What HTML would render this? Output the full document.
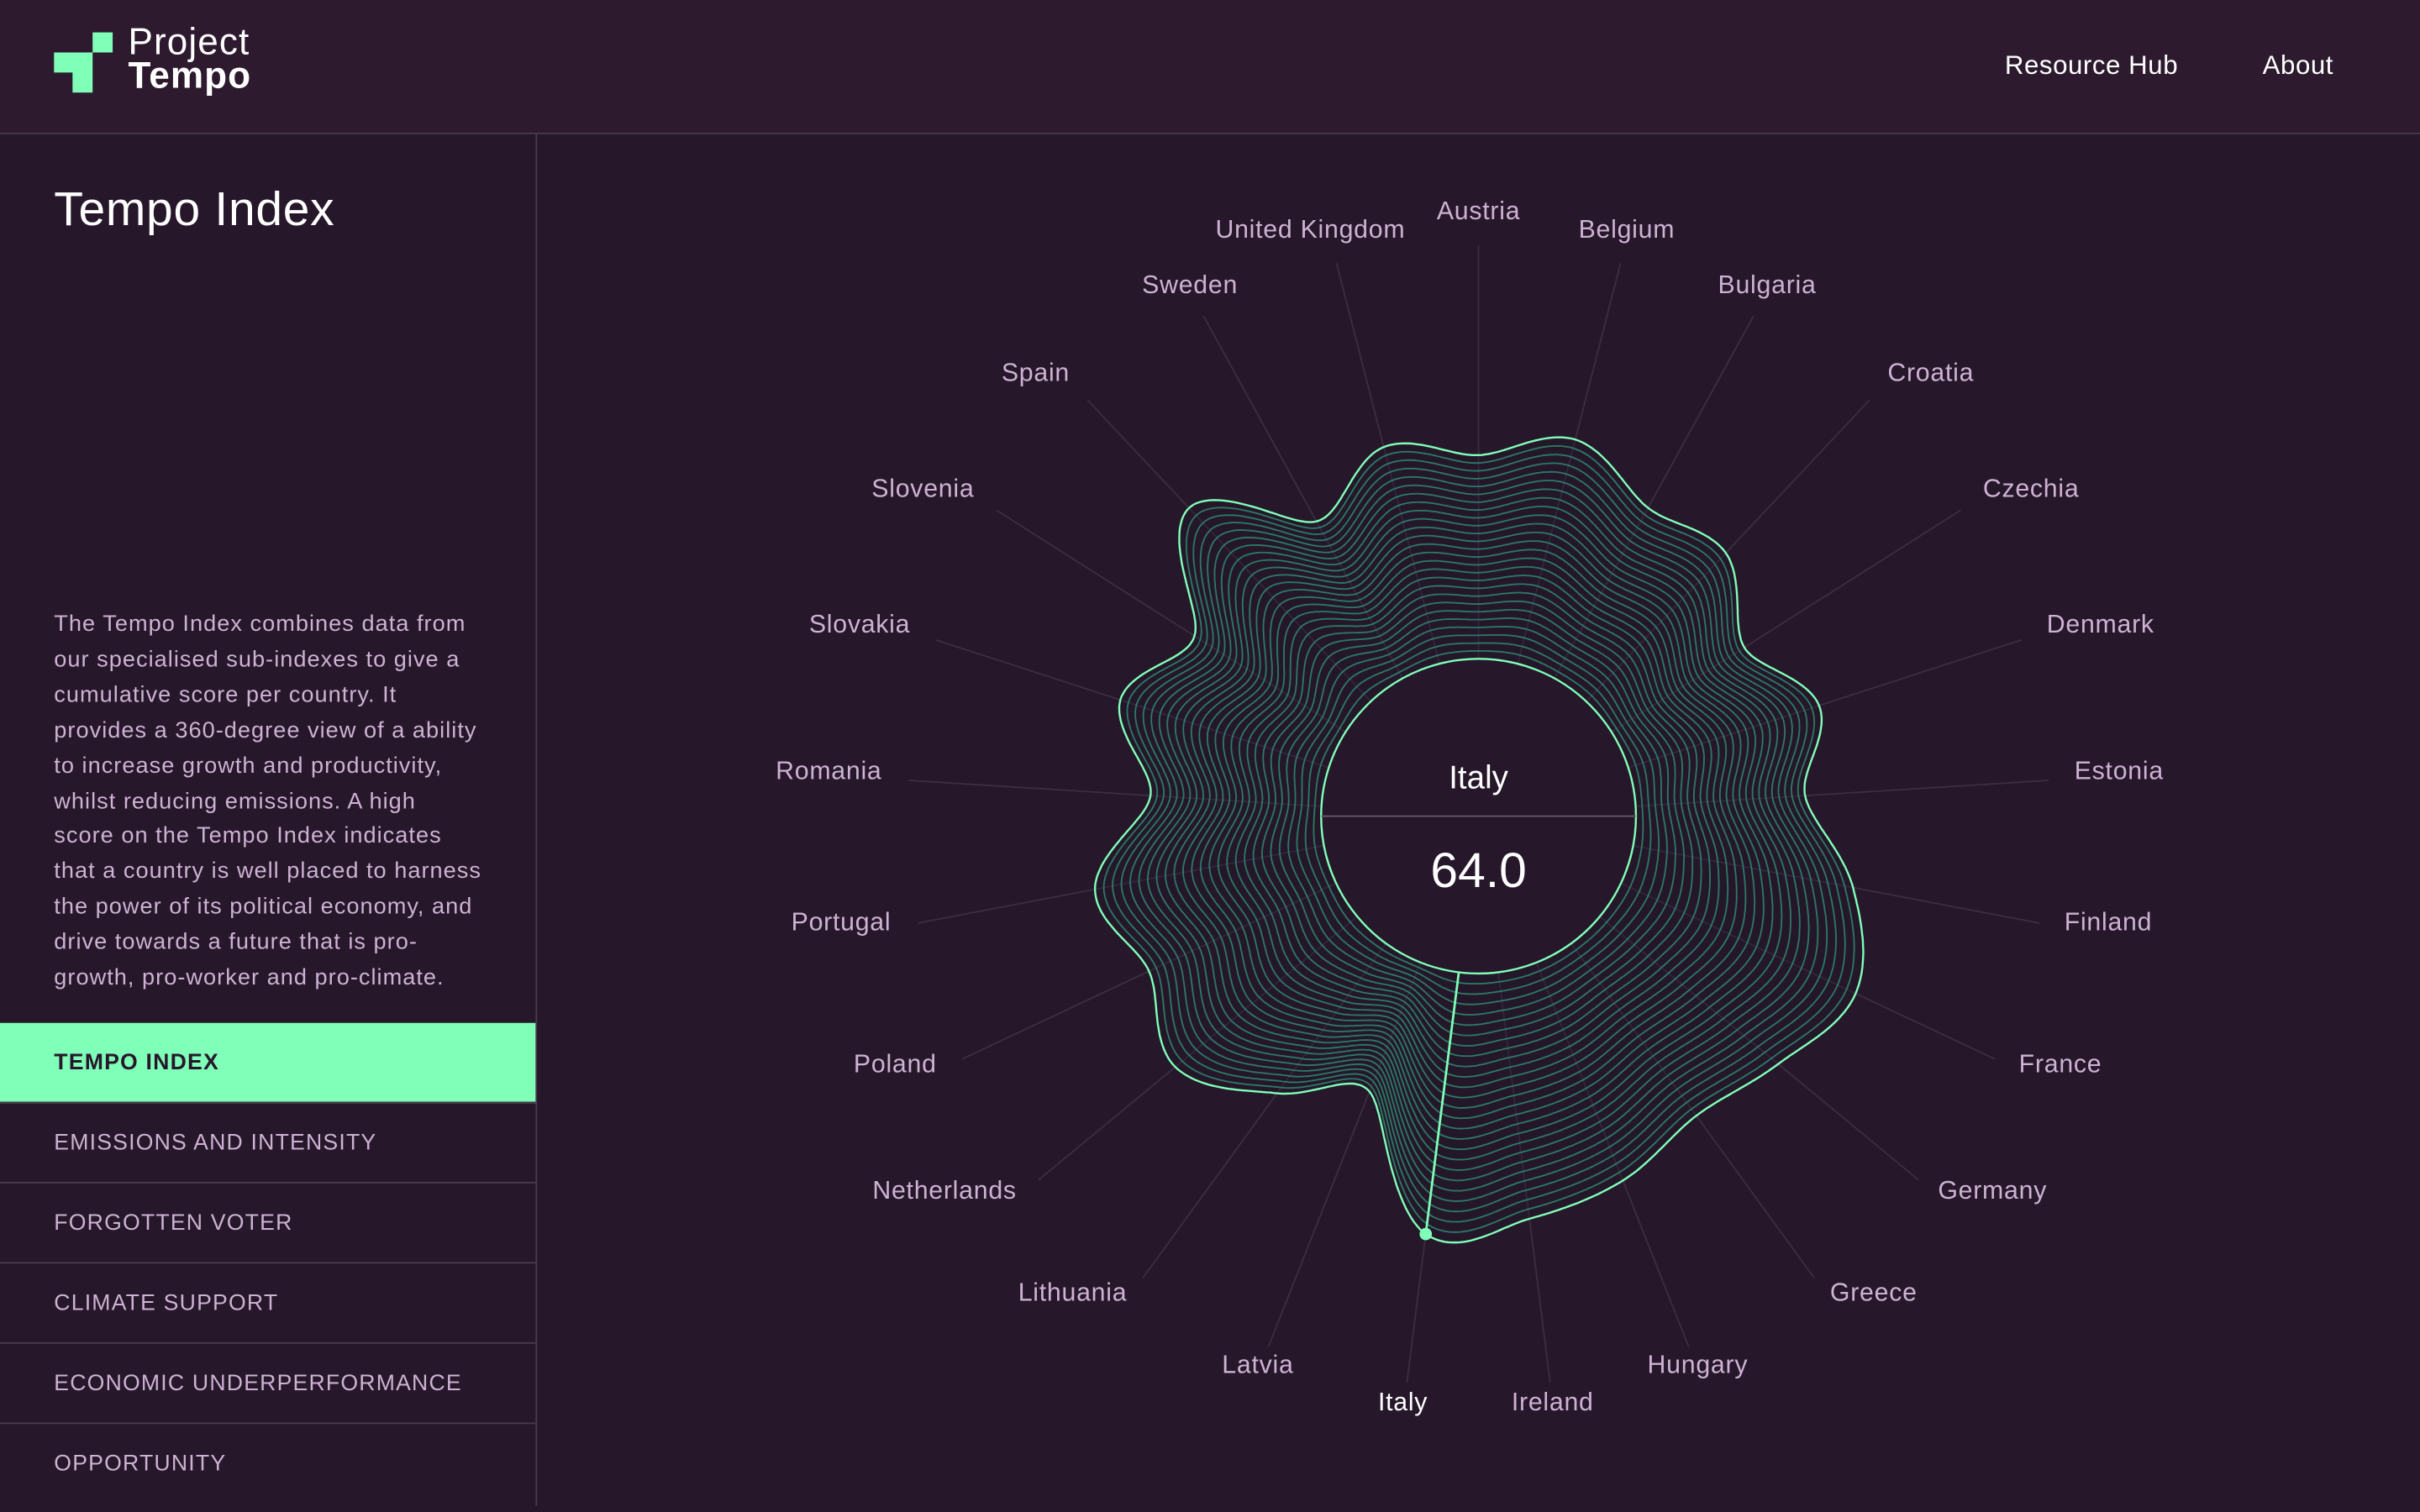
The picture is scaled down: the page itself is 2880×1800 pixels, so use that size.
<!DOCTYPE html>
<html><head><meta charset="utf-8">
<style>
html,body{margin:0;padding:0;background:#26172a;width:2880px;height:1800px;overflow:hidden}
#w{position:absolute;left:0;top:0;width:1568px;height:980px;transform:scale(1.836735);transform-origin:0 0;font-family:"Liberation Sans",sans-serif;background:#26172a}
#hd{position:absolute;left:0;top:0;width:1568px;height:86px;background:#2d1a2e;border-bottom:1px solid #4a3a4e}
.nav{position:absolute;top:33px;color:#fff;font-size:17px;letter-spacing:.3px}
#sb{position:absolute;left:0;top:87px;width:347px;height:889px;border-right:1px solid #4a3a4e}
h1{position:absolute;left:35px;top:118px;margin:0;font-weight:normal;color:#fff;font-size:31px;letter-spacing:.4px}
#p{position:absolute;left:35px;top:394px;width:310px;color:#cdb2d3;font-size:14.8px;line-height:22.9px;letter-spacing:.55px;white-space:nowrap}
.it{position:absolute;left:0;width:347px;height:51px;border-bottom:1px solid #4a3a4e;color:#cdb2d3;font-size:14.5px;line-height:52px;text-indent:35px;letter-spacing:.65px}
</style></head><body><div id="w">
<div id="hd">
<svg style="position:absolute;left:0;top:0" width="80" height="70"><rect x="60" y="21" width="13" height="13" fill="#80ffb8"/><rect x="35" y="34" width="25" height="13" fill="#80ffb8"/><rect x="47" y="46" width="13" height="14" fill="#80ffb8"/></svg>
<div style="position:absolute;left:83px;top:17px;color:#fff;font-size:24px;line-height:22px;letter-spacing:.6px">Project<br><b>Tempo</b></div>
<div class="nav" style="left:1299px">Resource Hub</div>
<div class="nav" style="left:1466px">About</div>
</div>
<div id="sb"></div>
<h1>Tempo Index</h1>
<div id="p">The Tempo Index combines data from<br>our specialised sub-indexes to give a<br>cumulative score per country. It<br>provides a 360-degree view of a ability<br>to increase growth and productivity,<br>whilst reducing emissions. A high<br>score on the Tempo Index indicates<br>that a country is well placed to harness<br>the power of its political economy, and<br>drive towards a future that is pro-<br>growth, pro-worker and pro-climate.</div>
<div class="it" style="top:663px;background:#80ffb8;color:#26172a;font-weight:bold">TEMPO INDEX</div>
<div class="it" style="top:715px">EMISSIONS AND INTENSITY</div>
<div class="it" style="top:767px">FORGOTTEN VOTER</div>
<div class="it" style="top:819px">CLIMATE SUPPORT</div>
<div class="it" style="top:871px">ECONOMIC UNDERPERFORMANCE</div>
<div class="it" style="top:923px;border-bottom:none">OPPORTUNITY</div>
<svg id="ch" style="position:absolute;left:0;top:0" width="1568" height="980"></svg>
</div>
<script>
var names=["Austria","Belgium","Bulgaria","Croatia","Czechia","Denmark","Estonia","Finland","France","Germany","Greece","Hungary","Ireland","Italy","Latvia","Lithuania","Netherlands","Poland","Portugal","Romania","Slovakia","Slovenia","Spain","Sweden","United Kingdom"];
var R=[234,252,228,234,204,232,212,247,270,252,240,254,263,273,192,222,255,236,253,213,244,218,274,218,247];
var lp=[[958,136],[1054,148],[1145,184],[1251,241],[1316,316],[1361,404],[1373,499],[1366,597],[1335,689],[1291,771],[1214,837],[1100,884],[1006,908],[909,908],[815,884],[695,837],[612,771],[580,689],[545,597],[537,499],[557,404],[598,316],[671,241],[771,184],[849,148]];
var cx=958,cy=529,ri=102,n=25,s=document.getElementById('ch'),o='';
function rad(t){var f=t/(2*Math.PI)*n;f=((f%n)+n)%n;var i=Math.floor(f),u=f-i;var p0=R[(i-1+n)%n],p1=R[i],p2=R[(i+1)%n],p3=R[(i+2)%n];
return 0.5*((2*p1)+(-p0+p2)*u+(2*p0-5*p1+4*p2-p3)*u*u+(-p0+3*p1-3*p2+p3)*u*u*u);}
function pt(t,r){return [cx+r*Math.sin(t),cy-r*Math.cos(t)];}
for(var i=0;i<n;i++){var t=i*2*Math.PI/n,a=pt(t,0),b=pt(t,370);o+='<line x1="'+a[0]+'" y1="'+a[1]+'" x2="'+b[0].toFixed(1)+'" y2="'+b[1].toFixed(1)+'" stroke="#3b2d43" stroke-width="1"/>';
o+='<text x="'+lp[i][0]+'" y="'+(lp[i][1]+6)+'" text-anchor="middle" font-size="16.5" letter-spacing=".4" fill="'+(i==13?'#fff':'#cdb2d3')+'">'+names[i]+'</text>';}
var N=26;
for(var k=N;k>=1;k--){var d='';for(var j=0;j<=720;j++){var t=j/720*2*Math.PI,r=ri+(rad(t)-ri)*k/N,p=pt(t,r);d+=(j?'L':'M')+p[0].toFixed(1)+' '+p[1].toFixed(1);}
if(k==N)o+='<path d="'+d+'Z" fill="#26172a" fill-opacity="0.35" stroke="#80ffb8" stroke-width="1.3"/>';else o+='<path d="'+d+'Z" fill="none" stroke="#2f9a7a" stroke-opacity="0.75" stroke-width="1"/>';}
o+='<circle cx="'+cx+'" cy="'+cy+'" r="'+ri+'" fill="#26172a" stroke="#80ffb8" stroke-width="1.3"/>';
o+='<line x1="'+(cx-ri)+'" y1="'+cy+'" x2="'+(cx+ri)+'" y2="'+cy+'" stroke="#6a5a70" stroke-width="1"/>';
var ti=13*2*Math.PI/n,a=pt(ti,ri),b=pt(ti,R[13]);
o+='<line x1="'+a[0]+'" y1="'+a[1]+'" x2="'+b[0]+'" y2="'+b[1]+'" stroke="#80ffb8" stroke-width="1.5"/><circle cx="'+b[0]+'" cy="'+b[1]+'" r="4" fill="#80ffb8"/>';
o+='<text x="958" y="511" text-anchor="middle" font-size="21" fill="#fff">Italy</text><text x="958" y="575" text-anchor="middle" font-size="32" fill="#fff">64.0</text>';
s.innerHTML=o;
</script>
</body></html>
